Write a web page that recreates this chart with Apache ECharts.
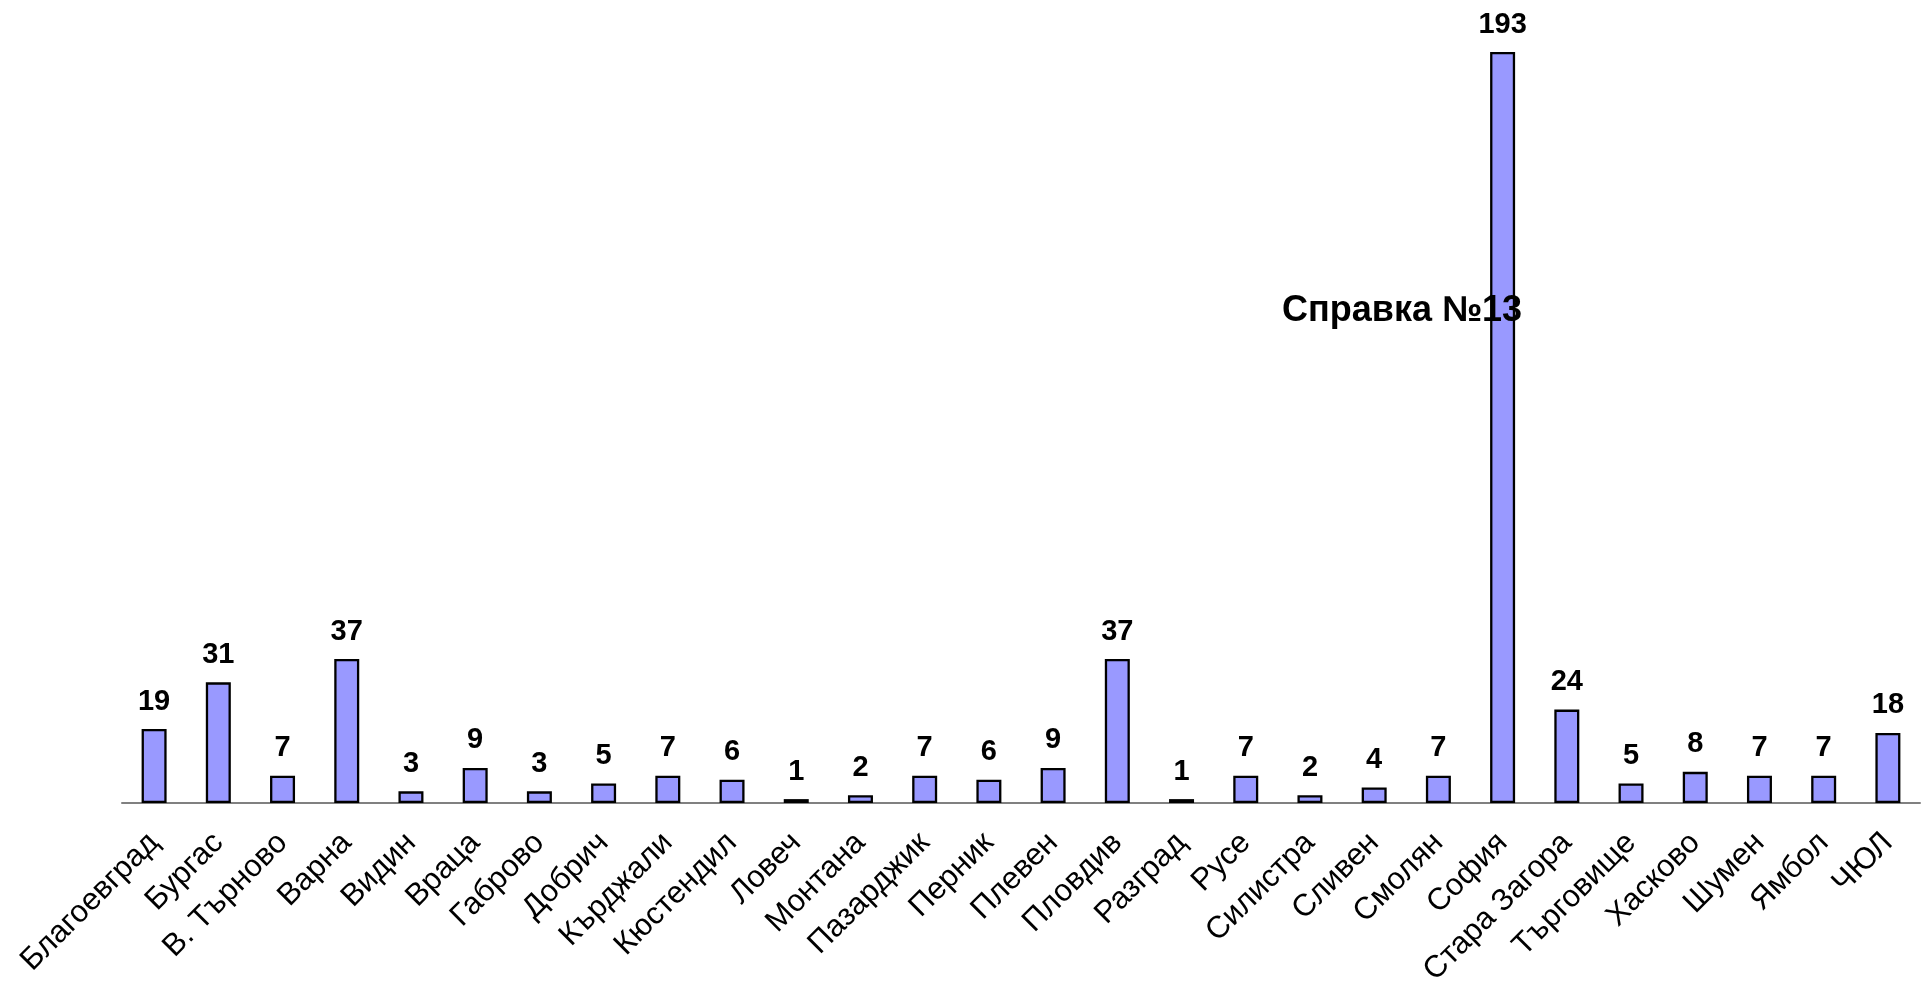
<!DOCTYPE html>
<html>
<head>
<meta charset="utf-8">
<script src="https://cdn.jsdelivr.net/npm/echarts@6/dist/echarts.min.js"></script>
<style>
html,body{margin:0;padding:0;background:#fff;}
#chart{width:1928px;height:981px;}
</style>
</head>
<body>
<div id="chart"></div>
<script>
const categories = ['Благоевград','Бургас','В. Търново','Варна','Видин','Враца','Габрово','Добрич','Кърджали','Кюстендил','Ловеч','Монтана','Пазарджик','Перник','Плевен','Пловдив','Разград','Русе','Силистра','Сливен','Смолян','София','Стара Загора','Търговище','Хасково','Шумен','Ямбол','ЧЮЛ'];
const values = [19,31,7,37,3,9,3,5,7,6,1,2,7,6,9,37,1,7,2,4,7,193,24,5,8,7,7,18];
const titleText = 'Справка №13';

const chart = echarts.init(document.getElementById('chart'), null, {renderer:'canvas'});
chart.setOption({
  animation: false,
  backgroundColor: '#ffffff',
  grid: {left: 122, right: 8, top: 52, bottom: 178, containLabel: false, outerBoundsMode: 'none'},
  xAxis: {
    type: 'category',
    data: categories,
    axisLine: {show: true, lineStyle: {color: '#808080', width: 2}},
    axisTick: {show: false},
    axisLabel: {
      interval: 0, rotate: 45, margin: 35,
      color: '#000', fontFamily: 'Liberation Sans, Arial, sans-serif', fontSize: 31
    }
  },
  yAxis: {
    type: 'value', min: 0, max: 193, show: false,
    splitLine: {show: false}
  },
  series: [{
    type: 'bar',
    data: values,
    barWidth: 25,
    itemStyle: {color: '#9999ff', borderColor: '#000', borderWidth: 2.3},
    label: {
      show: true, position: 'top', distance: 13,
      color: '#000', fontWeight: 'bold', fontSize: 29,
      fontFamily: 'Liberation Sans, Arial, sans-serif'
    }
  }],
  graphic: [{
    type: 'text', left: 1282, top: 293, z: 100,
    style: {
      text: titleText, fill: '#000',
      font: 'bold 36px "Liberation Sans", Arial, sans-serif'
    }
  }]
});
</script>
</body>
</html>
